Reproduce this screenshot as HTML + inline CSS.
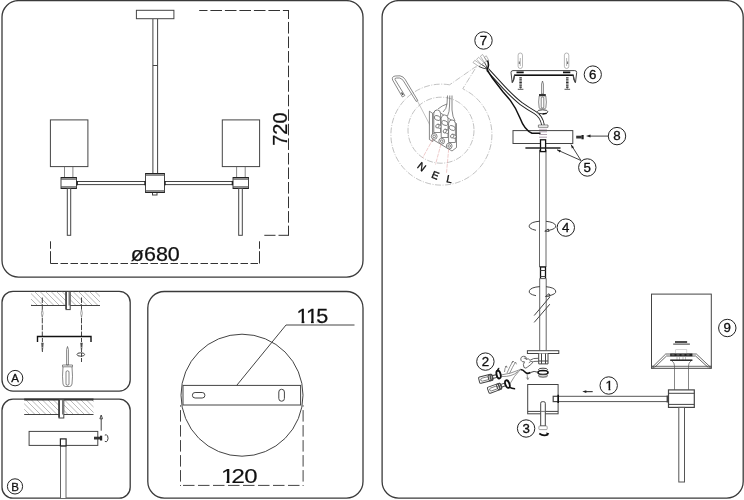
<!DOCTYPE html>
<html><head><meta charset="utf-8">
<style>
html,body{margin:0;padding:0;background:#fff;}
svg{display:block;}
text{font-family:"Liberation Sans",sans-serif;fill:#111;filter:grayscale(1);}
.b{fill:none;stroke:#3a3a3a;stroke-width:1.3;}
.l{fill:none;stroke:#444;stroke-width:1;}
.lw{fill:#fff;stroke:#444;stroke-width:1;}
.t{fill:none;stroke:#555;stroke-width:0.7;}
.tw{fill:#fff;stroke:#555;stroke-width:0.7;}
.g{fill:none;stroke:#999;stroke-width:0.6;}
.gw{fill:#fff;stroke:#999;stroke-width:0.6;}
.d{fill:none;stroke:#333;stroke-width:1;stroke-dasharray:7 2.5;}
.k{fill:none;stroke:#111;stroke-width:1.6;}
.c{fill:#fff;stroke:#222;stroke-width:1;}
</style></head><body>
<svg width="744" height="500" viewBox="0 0 744 500">
<rect width="744" height="500" fill="#fff"/>
<defs>
<clipPath id="c120"><rect x="-1" y="-21" width="45" height="19.300"/><rect x="4.600" y="-2" width="2.600" height="3"/><rect x="9.600" y="-2" width="40" height="4"/></clipPath>
<clipPath id="c115"><rect x="-1" y="-21" width="45" height="19.300"/><rect x="4.600" y="-2" width="2.600" height="3"/><rect x="13.300" y="-2" width="2.600" height="3"/><rect x="18.800" y="-2" width="30" height="4"/></clipPath>
<clipPath id="c1"><rect x="600" y="375" width="20" height="13.600"/><rect x="608.500" y="388" width="1.900" height="3"/></clipPath>
</defs>

<!-- PANEL 1 -->
<g id="p1">
<rect class="b" x="2" y="0.6" width="361" height="276.5" rx="16.5"/>
<rect class="lw" x="136.4" y="10.3" width="37.5" height="8.4"/>
<path class="l" d="M152.9 19V173.5M157.6 19V173.5M152.9 65.5H157.6"/>
<rect class="lw" x="50.4" y="119.9" width="37.5" height="46.7"/>
<rect class="lw" x="222.3" y="119.9" width="37.3" height="46.7"/>
<path class="t" d="M64.5 166.5V177.5M72.9 166.5V177.5M236.6 166.5V177.5M245.2 166.5V177.5"/>
<path class="l" d="M77 181.5H145.5M77 184.6H145.5M164.5 181.5H233M164.5 184.6H233"/>
<rect class="lw" x="61" y="177.5" width="15.5" height="11"/>
<path class="t" d="M61 179.5H76.5M61 186.5H76.5"/>
<rect class="lw" x="233" y="177.5" width="15.5" height="11"/>
<path class="t" d="M233 179.5H248.500M233 186.500H248.500"/>
<rect class="lw" x="145.500" y="173.500" width="19" height="19"/>
<path class="t" d="M145.500 175.500H164.500M145.500 190.500H164.500"/>
<rect class="lw" x="152.500" y="192.500" width="4.500" height="2.500"/>
<path d="M61 177.700H76.500M61 188.200H76.500M233 177.700H248.500M233 188.200H248.500M145.500 173.800H164.500M145.500 192.200H164.500" stroke="#222" stroke-width="1.500" fill="none"/>
<path d="M77.200 181V185.200M145 181V185.200M165 181V185.200M232.400 181V185.200" stroke="#222" stroke-width="1.400" fill="none"/>

<rect class="lw" x="67.300" y="188.500" width="3.400" height="46.800"/>
<rect class="lw" x="238.700" y="188.500" width="3.600" height="46.800"/>
<path class="l" style="stroke:#333" stroke-dasharray="11.6 2.9" stroke-dashoffset="3.3" d="M199.2 10.5H289"/><path class="l" style="stroke:#333" stroke-dasharray="11.6 2.95" stroke-dashoffset="3.1" d="M288.5 10.5V235.3"/><path class="l" style="stroke:#333" stroke-dasharray="10.5 3 11.6 3" d="M289 235.3H264.3"/>
<path class="l" style="stroke:#333" d="M50.5 241.3V248.8M50.5 251.2V263.5M259.5 241.3V248.8M259.5 251.2V263.5"/><path class="l" style="stroke:#333" stroke-dasharray="7.5 2.5" d="M50.5 263.5H259.5"/>
<text x="130.800" y="260.800" font-size="19.300" textLength="49" lengthAdjust="spacingAndGlyphs" stroke="#111" stroke-width="0.250">ø680</text>
<text transform="translate(286.700 145.800) rotate(-90)" font-size="19.300" textLength="33.300" lengthAdjust="spacingAndGlyphs" stroke="#111" stroke-width="0.250">720</text>
</g>

<!-- PANEL A -->
<g id="pA">
<rect class="b" x="2" y="291.300" width="128.200" height="99.800" rx="11"/>
<clipPath id="hA"><rect x="31" y="291.500" width="69" height="14"/></clipPath>
<g clip-path="url(#hA)" class="g" style="stroke:#888"><path d="M12.0 291.0l15.0 15.0M17.5 291.0l15.0 15.0M23.0 291.0l15.0 15.0M28.5 291.0l15.0 15.0M34.0 291.0l15.0 15.0M39.5 291.0l15.0 15.0M45.0 291.0l15.0 15.0M50.5 291.0l15.0 15.0M56.0 291.0l15.0 15.0M61.5 291.0l15.0 15.0M67.0 291.0l15.0 15.0M72.5 291.0l15.0 15.0M78.0 291.0l15.0 15.0M83.5 291.0l15.0 15.0M89.0 291.0l15.0 15.0M94.5 291.0l15.0 15.0M100.0 291.0l15.0 15.0"/></g>
<path class="l" d="M31 305.500H100"/>
<rect class="lw" x="66" y="291.500" width="4.200" height="18.100"/>
<path d="M69.300 292V305.500" stroke="#777" stroke-width="1.600"/><path d="M66.100 291.500V309" stroke="#333" stroke-width="1.300"/>
<path class="l" stroke-dasharray="5.500 1.300" d="M42.300 297.500V337M81.500 297.500V337"/>
<path class="gw" d="M42.300 309.200l-0.900 4l0.900 4.200l0.900-4.200zM81.500 309.200l-0.900 4l0.900 4.200l0.900-4.200z" style="stroke:#777"/>
<path class="k" d="M37.500 342V336.500H91V342" style="stroke-width:1.400"/>
<path class="l" stroke-dasharray="4 1" d="M42.400 338V353M81.500 338V362"/>
<path class="t" d="M41.400 343h2l-1 8zM80.500 343h2l-1 8z"/>
<ellipse class="l" cx="80.800" cy="354.500" rx="3.800" ry="1.700"/>
<path class="t" d="M67.500 346.500l-0.900 3V365h1.800V349.500zM62.500 365h10v1.800h-10zM63 367q-1 10 0 17q0.500 2.500 2.500 2.500h4q2 0 2.500-2.500q1-7 0-17M66 371.500q1.500-1.500 3 0V384.500q-1.500 1.500-3 0z"/>
<circle class="c" cx="15.100" cy="378.100" r="7.700"/>
<text x="15.100" y="382.300" font-size="11.500" text-anchor="middle" stroke="#111" stroke-width="0.300">A</text>
</g>
<!-- PANEL B -->
<g id="pB">
<rect class="b" x="2" y="399.200" width="128.200" height="99" rx="11"/>
<clipPath id="hB"><rect x="24.200" y="399.700" width="69.300" height="14.800"/></clipPath>
<g clip-path="url(#hB)" class="g" style="stroke:#888"><path d="M3.0 399.0l16.0 16.0M8.5 399.0l16.0 16.0M14.0 399.0l16.0 16.0M19.5 399.0l16.0 16.0M25.0 399.0l16.0 16.0M30.5 399.0l16.0 16.0M36.0 399.0l16.0 16.0M41.5 399.0l16.0 16.0M47.0 399.0l16.0 16.0M52.5 399.0l16.0 16.0M58.0 399.0l16.0 16.0M63.5 399.0l16.0 16.0M69.0 399.0l16.0 16.0M74.5 399.0l16.0 16.0M80.0 399.0l16.0 16.0M85.5 399.0l16.0 16.0M91.0 399.0l16.0 16.0"/></g>
<path class="l" d="M24.200 414.500H93.500"/><path d="M24.200 399.500H93.500" stroke="#333" stroke-width="1.800"/>
<rect class="lw" x="59" y="399.700" width="4.800" height="18.300"/>
<path d="M62.800 400V414.500" stroke="#777" stroke-width="1.600"/><path d="M59.100 399.700V417.500" stroke="#333" stroke-width="1.500"/>
<rect class="lw" x="29.100" y="431.400" width="68.700" height="14"/>
<path class="lw" d="M60.500 498V446H66V498" style="stroke:#666"/>
<rect class="lw" x="60.400" y="438.900" width="5.700" height="7" style="stroke:#222;stroke-width:1.200"/>
<path class="l" d="M101.200 430.700V418.500"/>
<path class="lw" d="M101.200 415l-1.300 3.800h2.600z"/>
<path d="M94 436.700h6.200v2.800h-6.200z" fill="#333"/><path d="M100 435.700h2.200v4.800H100z" fill="#222"/>
<path class="l" d="M104.800 435.200Q106.500 433.800 107.600 436Q108.600 438.500 107.400 440.800Q106.300 442.500 104.800 441.300"/>
<circle class="c" cx="15" cy="486.400" r="7.600"/>
<text x="15" y="490.500" font-size="11.500" text-anchor="middle" stroke="#111" stroke-width="0.300">B</text>
</g>
<!-- PANEL 120 -->
<g id="p120">
<rect class="b" x="147.800" y="291.500" width="215.200" height="206.600" rx="16.500"/>
<circle class="l" cx="242" cy="395.200" r="61"/>
<rect class="lw" x="183" y="385.400" width="117.600" height="19.600"/>
<rect class="l" x="192.400" y="392.500" width="12.500" height="5.500" rx="2.700"/>
<rect class="l" x="278.800" y="389.300" width="5.600" height="11.900" rx="2.700"/>
<path class="l" d="M236.700 385.400L286 325H354.500"/>
<path class="l" stroke-dasharray="11.500 3.500" d="M180.500 410.100V486M303.100 410.100V486M183 485.400H303"/><path class="l" d="M180.500 405.300V406.600M303.100 405.300V406.600"/>
<text clip-path="url(#c115)" transform="translate(296.600 322.600) scale(1.080 1)" x="0 8.700 18.200" y="0" font-size="20" stroke="#111" stroke-width="0.250">115</text>
<text clip-path="url(#c120)" transform="translate(220.900 482.500) scale(1.200 1)" x="0 8.750 19.500" y="0" font-size="20" stroke="#111" stroke-width="0.150">120</text>
</g>

<!-- RIGHT PANEL -->
<g id="pR">
<rect class="b" x="382.100" y="0.600" width="361.100" height="497.500" rx="16.500"/>
<!-- detail circle -->
<g class="g" stroke-dasharray="6 1.500 1 1.500">
<path d="M449.600 84.800A50.500 50.500 0 1 0 470 93L462.800 88.700L477 65.800L449.600 84.800"/>
<circle cx="441" cy="130.200" r="33"/>
</g>
<!-- tester -->
<path class="t" d="M402.400 97L392.600 80Q391.500 76.500 395.300 76L400 75.800Q403.500 76.500 405.200 79.500L417.800 100.500L416.300 101.500L403.500 81Q402 78.500 399.500 78L396.500 78Q394.500 78 395 79.500L404.800 95.500Z"/>
<path class="g" d="M416.800 99.800L434.600 134"/>
<path d="M401.500 92.500l1.500 2.500" stroke="#444" stroke-width="1.300"/>
<!-- terminal block -->
<g class="tw">
<path d="M447.500 95.500L447 104Q446.500 109 443 112M449.800 95.500L449.500 106Q449.500 112 447.500 116M452 95.500L452 110Q452.500 117 455 121M447 104Q442 105.500 438 109" style="fill:none"/>
<path d="M429.400 111.200L432.800 113.500V141.500L429.400 139.500Z"/>
<path d="M432.800 113.500L436 110L456.500 123.500V147.500L452 151L432.800 139.500Z"/>
<path d="M433.8 113.5q0.300-3.600 3.400-3.600t3.400 3.600V132.5h-6.800z"/>
<ellipse cx="437.4" cy="118.0" rx="3.300" ry="2.200" transform="rotate(25 437.4 118.0)"/>
<path d="M438.0 124.0l2.600 1.200q1.300 1 0.600 2.400q-0.900 1.200-2.300 0.600l-2.600-1.200z"/>
<ellipse cx="437.4" cy="126.1" rx="1.500" ry="2" transform="rotate(25 437.4 126.1)"/>
<circle cx="434.2" cy="136.4" r="2.900"/><circle cx="434.2" cy="136.4" r="1.300"/>
<path d="M441.2 118.5q0.300-3.600 3.400-3.600t3.400 3.600V137.5h-6.800z"/>
<ellipse cx="444.8" cy="123.0" rx="3.300" ry="2.200" transform="rotate(25 444.8 123.0)"/>
<path d="M445.4 129.0l2.600 1.200q1.300 1 0.600 2.400q-0.900 1.200-2.300 0.600l-2.600-1.200z"/>
<ellipse cx="444.8" cy="131.1" rx="1.500" ry="2" transform="rotate(25 444.8 131.1)"/>
<circle cx="441.7" cy="141.2" r="2.900"/><circle cx="441.7" cy="141.2" r="1.300"/>
<path d="M448.6 123.5q0.300-3.600 3.400-3.600t3.400 3.600V142.5h-6.800z"/>
<ellipse cx="452.2" cy="128.0" rx="3.300" ry="2.200" transform="rotate(25 452.2 128.0)"/>
<path d="M452.8 134.0l2.600 1.200q1.300 1 0.600 2.400q-0.900 1.200-2.300 0.600l-2.600-1.200z"/>
<ellipse cx="452.2" cy="136.1" rx="1.500" ry="2" transform="rotate(25 452.2 136.1)"/>
<circle cx="449.2" cy="146.0" r="2.900"/><circle cx="449.2" cy="146.0" r="1.300"/>
</g>
<path d="M433 139L422.500 158M441 144L435.500 164.500M448.700 148.800L446.500 173" fill="none" stroke="#e3a8a8" stroke-width="0.600" stroke-dasharray="4 1"/>
<g font-size="10.500" text-anchor="middle" stroke="#111" stroke-width="0.350">
<text transform="translate(419.400 169.500) rotate(38)" x="0" y="0">N</text>
<text transform="translate(434 178.500) rotate(22)" x="0" y="0">E</text>
<text transform="translate(448.600 182.500) rotate(12)" x="0" y="0">L</text>
</g>
<!-- wire ends -->
<g class="gw" style="stroke:#888"><path d="M479 66.500L473 62.500L474.800 60.300L481 64.500ZM481.500 64.500L476.600 59.300L478.600 57.300L484 62.500ZM484.500 62.500L480.400 56.200L482.600 54.500L487 61ZM487 62L484.300 57.200L486.300 55.800L488.800 60.500Z"/></g>
<path class="l" d="M479 66.500Q483 68.500 487 69M481.500 64.500Q485 66 487 69M484.500 62.500Q486.500 65 487 69"/>
<path class="k" d="M487.500 60.500Q489.500 64.500 487.300 69.500"/>
<!-- cable -->
<path d="M487.500 69.500L504 87.500Q514 98 521 103.500Q528 108.500 535 112.500Q541.500 116.500 543 125" fill="none" stroke="#222" stroke-width="3.600"/>
<path d="M487.500 69.500L504 87.500Q514 98 521 103.500Q528 108.500 535 112.500Q541.500 116.500 543 125" fill="none" stroke="#fff" stroke-width="1.700"/>
<!-- bracket 6 -->
<g class="gw" style="stroke:#888">
<rect x="518.100" y="53" width="4.400" height="15.500" rx="2.200"/><path d="M520.300 58V66" fill="none"/>
<rect x="564.400" y="53" width="4.400" height="15.500" rx="2.200"/><path d="M566.600 58V66" fill="none"/>
</g>
<path d="M519.300 61.500v2.500M567.600 61.500v2.500" stroke="#444" stroke-width="0.800"/>
<path class="lw" d="M512.200 82.500L511 72.500Q511 70.600 513 70.600H574.800Q576.700 70.600 576.700 72.500L575.500 82.500Q573.700 80 573.200 75.200H514.500Q514 80 512.200 82.500Z"/>
<path class="k" d="M514 75.200H573.700"/>
<path class="l" d="M512.200 82.500Q514 80 514.500 75.200M575.500 82.500Q573.700 80 573.200 75.200" style="stroke-width:1.300"/>
<path d="M516.500 72.400h7.200M563 72.400h7.300" stroke="#111" stroke-width="1.700" fill="none"/>
<path d="M520.600 77.200V88.600M567.300 77.200V88.600" stroke="#2a2a2a" stroke-width="2.500" stroke-dasharray="1 0.600" fill="none"/>
<path d="M520.600 86l-0.700 2.600h1.400zM567.300 86l-0.700 2.600h1.400z" fill="#444"/>
<path d="M517.800 89.300h5.600M564.500 89.300h5.600" stroke="#555" stroke-width="1"/>
<!-- screwdriver -->
<path class="tw" d="M542.500 81l-0.900 3V94h1.800V84zM539.200 96q-1.100 6 0 12q0.400 0.800 1.500 0.800h3.600q1.100 0 1.500-0.800q1.100-6 0-12zM541.200 97.500q1.300-1 2.600 0V107.500q-1.300 1-2.600 0z"/>
<path d="M539 95h6.800" style="stroke:#222;stroke-width:1.800"/>
<ellipse class="lw" cx="542.600" cy="111.800" rx="5.300" ry="2"/>
<path d="M542.500 114l4.200-0.700" style="stroke:#111;stroke-width:1.300;fill:none"/>
<!-- connector -->
<path class="tw" d="M538.400 125h9.600v2.300h-9.600z"/>
<path d="M539 129.300h8" stroke="#b9a5b5" stroke-width="0.800"/>
<!-- canopy -->
<rect class="lw" x="513" y="130.600" width="59.800" height="12.900"/>
<path d="M539 131.800h8M539 134.500h8M539 137.200h8" stroke="#a898a8" stroke-width="0.900" fill="none"/>
<path class="l" d="M487 69Q489.500 74 492.200 77.800L502.900 91.700Q508 97.500 510.500 100.600Q516 108 520 118Q524.500 130 532 133.300H540.500" style="stroke:#111;stroke-width:1.500"/>
<path class="lw" d="M539.500 267V150H546V267Z" style="stroke:#666"/>
<rect class="lw" x="540.500" y="139.800" width="5.100" height="11.800" style="stroke:#111;stroke-width:1.300"/>
<path d="M525.400 148H560.500" stroke="#222" stroke-width="1.700"/>
<!-- 8 -->
<path d="M576.200 135.700h5.500v2.800h-5.500z" fill="#333"/><path d="M581.500 135h2.200v4.300h-2.200z" fill="#222"/>
<path class="l" d="M608.300 136.100H589"/><path d="M586 136.100l4.500-1.500v3z" fill="#222"/>
<circle class="c" cx="617" cy="136.100" r="8.700"/>
<text x="617.0" y="140.300" font-size="12" text-anchor="middle" textLength="7.400" lengthAdjust="spacingAndGlyphs" stroke="#111" stroke-width="0.300">8</text>
<!-- 5 -->
<path class="l" d="M581 160.500L571 144.600M581 160.500L557 149.800"/>
<path d="M571 144.600l0.800 4l2.200-1.400zM557 149.800l2.800 2.600l1-2.300z" fill="#222"/>
<circle class="c" cx="587.300" cy="167.500" r="8.700"/>
<text x="587.3" y="171.7" font-size="12" text-anchor="middle" textLength="7.400" lengthAdjust="spacingAndGlyphs" stroke="#111" stroke-width="0.300">5</text>
<!-- 6,7 -->
<circle class="c" cx="592.800" cy="74.500" r="8.600"/>
<text x="592.7" y="79.0" font-size="12" text-anchor="middle" textLength="7.400" lengthAdjust="spacingAndGlyphs" stroke="#111" stroke-width="0.300">6</text>
<circle class="c" cx="483.500" cy="40.500" r="8.700"/>
<text x="483.5" y="44.7" font-size="12" text-anchor="middle" textLength="7.400" lengthAdjust="spacingAndGlyphs" stroke="#111" stroke-width="0.300">7</text>
<!-- rotation 4 -->
<path class="l" d="M540 221.200A13.200 4.900 0 0 0 536 230.300M546 221.300A13.200 4.900 0 0 1 548.500 230.400"/>
<path class="l" d="M544.800 231.200l3.400-2.200l0.900 2.300z"/>
<circle class="c" cx="565.800" cy="227.600" r="8.700"/>
<text x="565.8" y="231.8" font-size="12" text-anchor="middle" textLength="7.400" lengthAdjust="spacingAndGlyphs" stroke="#111" stroke-width="0.300">4</text>
<!-- connector on rod -->
<rect class="lw" x="540.500" y="267" width="5" height="11.600" style="stroke:#111;stroke-width:1.300"/>
<path class="l" d="M540.500 270.500h5M540.500 276.500h5"/>
<path class="lw" d="M539.700 350.700V278.600H546.200V350.700" style="stroke:#666"/>
<path class="l" d="M540 286.600A13.200 4.900 0 0 0 536 295.700M546 286.700A13.200 4.900 0 0 1 548.500 295.800"/>
<path class="l" d="M545.500 296.500l3.500-2.800l1.200 2.300z"/>
<path class="l" d="M534.200 315.500L549.800 297M534.200 322.400L549.800 304.200"/>
</g>

<!-- RIGHT PANEL bottom -->
<g id="pR2">
<!-- plate + tube -->
<rect class="lw" x="527.400" y="350.700" width="31.400" height="2.800"/>
<path class="lw" d="M538.700 353.500V363.900H548V353.500"/>
<path class="l" d="M541.500 353.500V363.900M545.500 353.500V363.900M538.700 361h9.300"/>
<!-- rings -->
<ellipse class="l" cx="543" cy="369.500" rx="4.500" ry="1.300"/>
<ellipse class="k" cx="543" cy="372.500" rx="5" ry="2"/>
<ellipse class="l" cx="543" cy="375.800" rx="4.500" ry="1.300"/>
<!-- key shape -->
<path class="g" d="M538.500 358.300Q533 357.800 530 360.300Q528.500 357.800 526 359.300Q527 356.300 523.500 356.300Q520 356.800 521 360.300Q522 362.300 524.500 361.800Q522.500 364.500 524 367.500Q526 369 527.500 367Q531 365 533.500 361.500Q536 361.300 538.500 361.300" style="stroke:#555;stroke-width:0.900"/>
<path class="g" d="M523.800 358.300q1.500-1 2.400 1M528.800 362.800q2-2.300 4.200-1" style="stroke:#555;stroke-width:0.800"/>
<!-- wavy wire -->
<path class="k" d="M520.400 369.500Q523 369.500 525 372Q527 374.500 530.500 372.500" style="stroke-width:1.500"/>
<path class="l" d="M530.500 372.500Q534 370.500 538 372.300"/>
<path class="g" d="M527 374l0.800 5.500M526.300 377.500l1.500 2l1.200-2" style="stroke:#555"/>
<!-- thin wires -->
<path class="g" d="M501 375Q510 374 520.400 369.500M509.500 384.500Q514 376 520.400 369.500M501.500 376.500Q512 377 518 371.500M507 373Q510 366 513 361M509.500 373.500Q512.500 367 515.500 362M513 361l-1.200 2M513 361l1.500 1.500M515.500 362l1 2.300M504.500 372Q504.500 368 506.500 366M506.500 366l-1.600 0.800M506.500 366l0.600 1.800" style="stroke:#666;stroke-width:0.700"/>
<!-- connectors -->
<g transform="translate(486.400 378.600) rotate(-14)">
<rect class="lw" x="-7.500" y="-3.200" width="13.500" height="6.400" rx="1.200"/>
<rect class="t" x="-5.800" y="-1.500" width="8.500" height="3" rx="1.500"/>
<ellipse class="l" cx="3.300" cy="0" rx="1.300" ry="3"/><ellipse class="l" cx="5.300" cy="0" rx="1.300" ry="3"/>
<path class="l" d="M6 -1.400h4.500v2.800H6"/>
<ellipse class="k" cx="12.800" cy="-1" rx="2" ry="4" style="stroke-width:1.800"/>
<path class="k" d="M12.500 -4.500q1-2.500 2.500-2.500"/>
</g>
<g transform="translate(495.200 388) rotate(-20)">
<rect class="lw" x="-7.500" y="-3.200" width="13.500" height="6.400" rx="1.200"/>
<rect class="t" x="-5.800" y="-1.500" width="8.500" height="3" rx="1.500"/>
<ellipse class="l" cx="3.300" cy="0" rx="1.300" ry="3"/><ellipse class="l" cx="5.300" cy="0" rx="1.300" ry="3"/>
<path class="l" d="M6 -1.400h4.500v2.800H6"/>
<ellipse class="k" cx="12.800" cy="0.500" rx="2" ry="4" style="stroke-width:1.800"/>
<path class="k" d="M13.500 4q2 2.500 5 3.500"/>
</g>
<circle class="c" cx="485.400" cy="361.600" r="8.700"/>
<text x="485.4" y="365.8" font-size="12" text-anchor="middle" textLength="7.400" lengthAdjust="spacingAndGlyphs" stroke="#111" stroke-width="0.300">2</text>
<!-- box -->
<rect class="lw" x="527.700" y="384.500" width="30.400" height="29.300"/>
<path class="l" d="M527.700 411.400H558.100"/>
<!-- screw 3 -->
<path class="lw" d="M540.700 426V403.200Q540.700 401.700 542.200 401.700H543.800Q545.300 401.700 545.300 403.200V426Z"/>
<path class="l" d="M540.700 411.400h4.600" style="stroke:#777"/>
<rect class="gw" x="538.900" y="426" width="8.300" height="3.600" rx="0.800" style="stroke:#666"/>
<path class="k" d="M539.300 433.500Q543.500 436.800 548.300 434.300"/><path d="M549.300 433.300l-3.200-0.700l1 2.900z" fill="#111"/>
<circle class="c" cx="526.100" cy="428.500" r="8.700"/>
<text x="526.1" y="432.7" font-size="12" text-anchor="middle" textLength="7.400" lengthAdjust="spacingAndGlyphs" stroke="#111" stroke-width="0.300">3</text>
<!-- arm -->
<path class="lw" d="M558.300 396.300H667.500V401.600H558.300Z" style="stroke:#555"/>
<rect class="lw" x="553.200" y="396.300" width="5.100" height="5.300" style="stroke-width:1.200"/>
<path d="M558.200 394.800V403" stroke="#111" stroke-width="1.600"/>
<path class="l" d="M585 391.600H592.700" style="stroke-width:1.200"/><path d="M582.300 391.600l4-1.400v2.800z" fill="#222"/>
<circle class="c" cx="608.700" cy="385.500" r="8.700"/>
<text clip-path="url(#c1)" x="609.200" y="389.700" font-size="12" text-anchor="middle" textLength="7.400" lengthAdjust="spacingAndGlyphs" stroke="#111" stroke-width="0.300">1</text>
<!-- shade -->
<rect class="lw" x="651.500" y="294.100" width="59.800" height="74.200"/>
<path class="l" d="M652 367.500L665.700 354H696.400L710.800 367.500M654.500 367.500L666.500 356H695.600L708.300 367.500M651.500 366.300H711.300" style="stroke-width:0.800"/>
<path class="t" d="M651.500 366.300h2v2h-2zM709.300 366.300h2v2h-2z"/>
<path d="M675.200 342h12.100" stroke="#222" stroke-width="2" stroke-dasharray="1.600 0.400"/><path d="M673.200 344.100h16.700" stroke="#333" stroke-width="1"/>
<rect class="g" x="675.700" y="349.700" width="11.100" height="4" style="stroke:#bbb;fill:#fff"/>
<path d="M670.200 354.900h22.200" stroke="#222" stroke-width="2.800"/><path d="M671.500 354.900h19.500" stroke="#999" stroke-width="0.700" stroke-dasharray="3 2"/>
<path class="g" d="M677 356.500v3.500M679.500 356.500v3.500M683 356.500v3.500M685.500 356.500v3.500"/>
<path d="M670.200 360.200h22.200" stroke="#222" stroke-width="1.500"/>
<path class="t" d="M672 361Q674.500 362.500 674.500 366M691 361Q688.500 362.500 688.500 366" />
<!-- neck -->
<path class="t" d="M674.500 366V389.900M688.500 366V389.900"/>
<!-- joint -->
<rect class="lw" x="668.500" y="389.900" width="25.800" height="17.500" style="stroke-width:1.200"/>
<path class="l" d="M668.500 393.300h25.800M668.500 404.400h25.800"/>
<path class="l" d="M667.300 395.500v7" style="stroke-width:1.400"/>
<rect class="lw" x="678.800" y="407.400" width="5.700" height="74.600" style="stroke:#555"/>
<circle class="c" cx="727.300" cy="328" r="8.700"/>
<text x="727.3" y="332.2" font-size="12" text-anchor="middle" textLength="7.400" lengthAdjust="spacingAndGlyphs" stroke="#111" stroke-width="0.300">9</text>
</g>
</svg>
</body></html>
